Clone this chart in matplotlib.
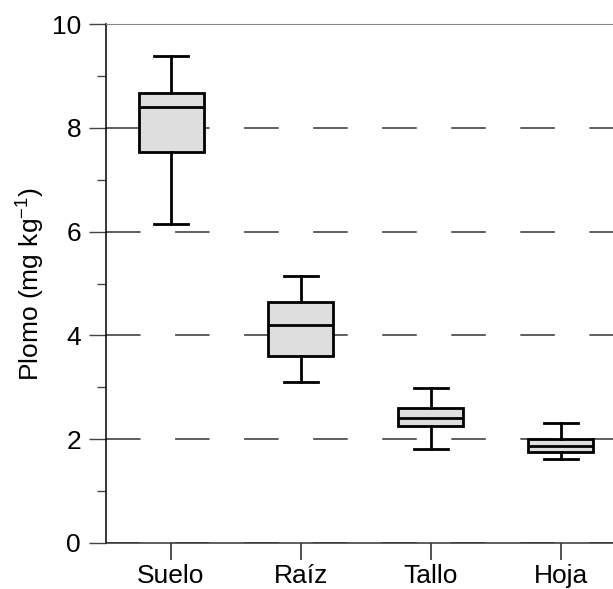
import matplotlib
matplotlib.use("Agg")
import matplotlib.pyplot as plt
from matplotlib.ticker import MultipleLocator

# box statistics
categories = ["Suelo", "Raíz", "Tallo", "Hoja"]
whislo = [6.15, 3.11, 1.82, 1.61]
q1 = [7.54, 3.60, 2.26, 1.75]
med = [8.41, 4.20, 2.40, 1.86]
q3 = [8.68, 4.65, 2.61, 2.00]
whishi = [9.39, 5.15, 2.98, 2.31]

plt.rcParams['font.family'] = ['Liberation Sans', 'DejaVu Sans']

stats = []
for i in range(len(categories)):
    stats.append({"label": categories[i], "whislo": whislo[i], "q1": q1[i],
                  "med": med[i], "q3": q3[i], "whishi": whishi[i], "fliers": []})

fig = plt.figure(figsize=(6.13, 5.89), dpi=100)
ax = fig.add_axes([106/613, 46/589, 520/613, 519/589])

ax.bxp(stats, positions=[1, 2, 3, 4], widths=0.5, patch_artist=True,
       showfliers=False,
       boxprops=dict(facecolor="#dedede", edgecolor="black", linewidth=2),
       medianprops=dict(color="black", linewidth=2),
       whiskerprops=dict(color="black", linewidth=2),
       capprops=dict(color="black", linewidth=2),
       capwidths=0.26, zorder=3)

ax.set_xlim(0.5, 4.5)
ax.set_ylim(0, 10)
ax.yaxis.set_major_locator(MultipleLocator(2))
ax.yaxis.set_minor_locator(MultipleLocator(1))
ax.yaxis.grid(True, which="major", color="#333333", linewidth=1.1,
              linestyle=(0, (22.6, 22.6)), zorder=1)
ax.set_axisbelow(True)

ax.spines["right"].set_visible(False)
ax.spines["top"].set_color("#888888")
ax.spines["left"].set_linewidth(1.1)
ax.spines["bottom"].set_linewidth(1.1)
ax.spines["bottom"].set_color("#333333")

ax.tick_params(axis="y", which="major", length=12, width=1, color="#444444",
               labelsize=19, pad=6)
ax.tick_params(axis="y", which="minor", length=6.5, width=1, color="#444444")
ax.tick_params(axis="x", length=12, width=1.2, color="#333333",
               labelsize=19, pad=3)

ax.set_ylabel("Plomo (mg kg$^{\\mathregular{-1}}$)", fontsize=19, labelpad=4)

fig.savefig("out.png", dpi=100)
